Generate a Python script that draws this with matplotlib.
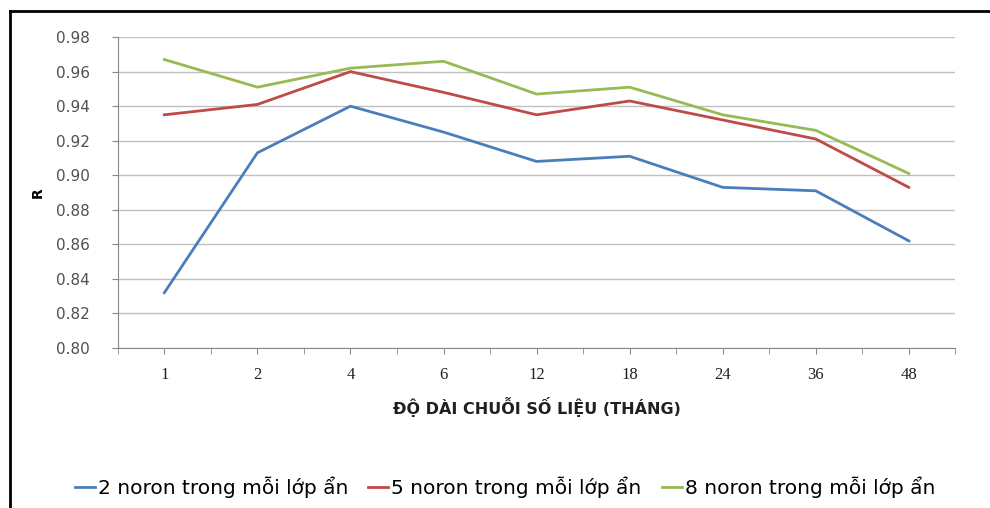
import numpy as np
import matplotlib.pyplot as plt
from matplotlib.lines import Line2D

months = ["1", "2", "4", "6", "12", "18", "24", "36", "48"]
r_2 = [0.832, 0.913, 0.940, 0.925, 0.908, 0.911, 0.893, 0.891, 0.862]
r_5 = [0.935, 0.941, 0.960, 0.948, 0.935, 0.943, 0.932, 0.921, 0.893]
r_8 = [0.967, 0.951, 0.962, 0.966, 0.947, 0.951, 0.935, 0.926, 0.901]
labels = ["2 noron trong mỗi lớp ẩn", "5 noron trong mỗi lớp ẩn", "8 noron trong mỗi lớp ẩn"]
colors = ["#4A7EBB", "#BE4B48", "#98B954"]

fig = plt.figure(figsize=(9.9, 5.08), dpi=100)
ax = fig.add_axes([0.119, 0.315, 0.846, 0.612])

x = np.arange(len(months))
for ys, lab, c in zip([r_2, r_5, r_8], labels, colors):
    ax.plot(x, ys, color=c, lw=2, label=lab)

ax.set_xlim(-0.5, len(months) - 0.5)
ax.set_ylim(0.80, 0.98)
ax.set_yticks(np.arange(0.80, 0.981, 0.02))
ax.set_yticklabels([f"{v:.2f}" for v in np.arange(0.80, 0.981, 0.02)],
                   fontsize=11, color="#505050")
ax.set_xticks(x)
ax.set_xticklabels(months, fontsize=12, family="Liberation Serif", color="#202020")
ax.set_xticks(np.arange(-0.5, len(months), 1), minor=True)
ax.tick_params(axis="x", which="both", length=4, color="#888888", pad=10)
ax.tick_params(axis="y", length=4, color="#888888", pad=16)
ax.yaxis.grid(True, color="#c0c0c0", lw=1)
ax.set_axisbelow(True)
for s in ["top", "right"]:
    ax.spines[s].set_visible(False)
ax.spines["left"].set_color("#888888")
ax.spines["bottom"].set_color("#888888")

ax.set_xlabel("ĐỘ DÀI CHUỖI SỐ LIỆU (THÁNG)", fontsize=11.5, fontweight="bold",
              color="#202020", labelpad=10)
ax.set_ylabel("R", fontsize=10, fontweight="bold", labelpad=8)

fig.legend(loc="center", bbox_to_anchor=(0.51, 0.04), ncol=3, frameon=False,
           fontsize=14.5, handlelength=1.0, handletextpad=0.15, columnspacing=1.0)

# black frame on left and top edges
fig.add_artist(Line2D([0.01, 0.01], [0, 0.978], color="black", lw=2))
fig.add_artist(Line2D([0.01, 1.0], [0.978, 0.978], color="black", lw=2))

fig.savefig("out.png", dpi=100)
